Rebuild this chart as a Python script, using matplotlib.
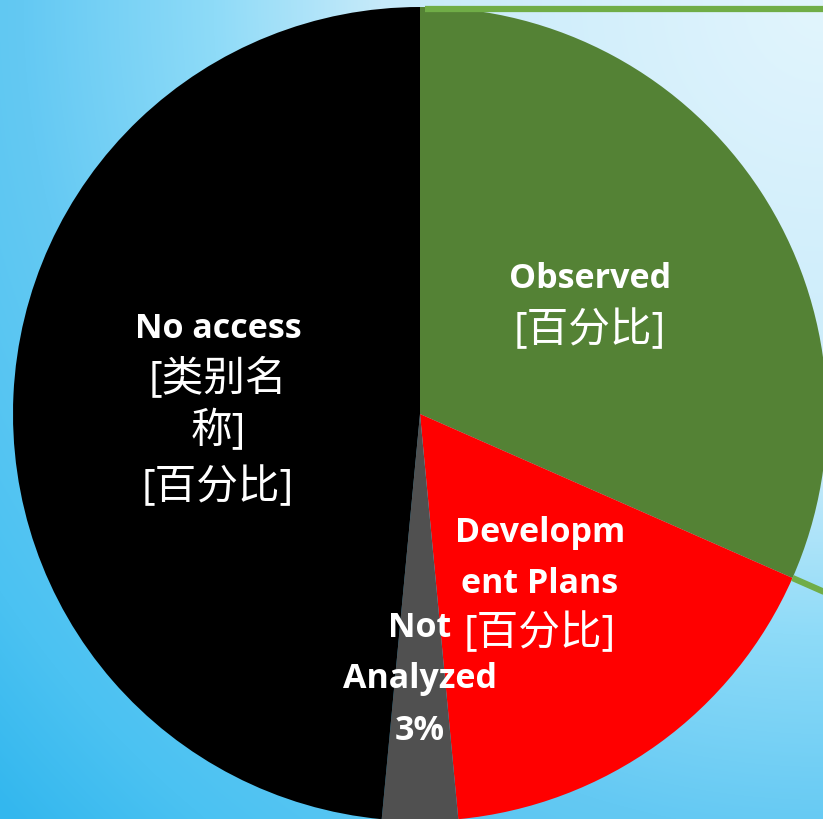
import numpy as np
import matplotlib
matplotlib.use("Agg")
import matplotlib.pyplot as plt
from matplotlib.colors import to_rgb

# ---- data ----
categories = ["Observed", "Development Plans", "Not Analyzed", "No access"]
values = [31.6, 16.9, 3.0, 48.5]
colors = ["#548235", "#FF0000", "#505050", "#000000"]
outline_color = "#70AD47"

# label lines: (text, is_cjk)
labels = {
    "Observed": [("Observed", False), ("[百分比]", True)],
    "Development Plans": [("Developm", False), ("ent Plans", False), ("[百分比]", True)],
    "Not Analyzed": [("Not", False), ("Analyzed", False), ("3%", False)],
    "No access": [("No access", False), ("[类别名", True), ("称]", True), ("[百分比]", True)],
}

W, H = 823, 820
fig = plt.figure(figsize=(W / 100, H / 100), dpi=100)
ax = fig.add_axes([0, 0, 1, 1])

# background radial gradient from top-right corner (slightly elliptical)
yy, xx = np.mgrid[0:H, 0:W]
d = np.hypot(xx - W, (yy - 0) * 0.96)
stops_d = [0, 443, 610, 800, 1000, 1130]
stops_c = ["#E2F5FD", "#C6EAFA", "#8EDBF8", "#64C9F3", "#4BC2F2", "#33B7EE"]
rgb = np.array([to_rgb(c) for c in stops_c])
img = np.stack([np.interp(d, stops_d, rgb[:, k]) for k in range(3)], axis=-1)
ax.imshow(img, extent=[0, W, 0, H], origin="upper", zorder=0, aspect="auto")

cx, cy, R = 420, H - 415, 407
wedges, _ = ax.pie(values, colors=colors, startangle=90, counterclock=False,
                   center=(cx, cy), radius=R, frame=True,
                   wedgeprops=dict(linewidth=0))
for w in wedges:
    w.set_zorder(2)

# odd outline of Observed slice (clipped)
ang = np.deg2rad(90 - 360 * values[0] / sum(values))
x0, y0 = cx + R * np.cos(ang), cy + R * np.sin(ang)
x1 = W + 10
y1 = cy + (x1 - cx) * np.tan(ang)
ax.plot([x0, x1], [y0, y1], color=outline_color, lw=4.5, solid_capstyle="butt", zorder=3)
ax.plot([425, W + 10], [H - 10, H - 10], color=outline_color, lw=4.5, solid_capstyle="butt", zorder=3)

# labels
positions = {
    "Observed": (590, [279, 331]),
    "Development Plans": (540, [533, 584, 634]),
    "Not Analyzed": (420, [628, 679, 731]),
    "No access": (218, [329, 380, 432, 488]),
}
fam = ["Open Sans", "Noto Sans CJK SC", "DejaVu Sans"]
for cat in categories:
    x, ys = positions[cat]
    for (txt, cjk), yimg in zip(labels[cat], ys):
        if cjk:
            ax.text(x, H - yimg, txt, ha="center", va="center", color="white",
                    fontsize=30, fontweight="normal", family=fam, zorder=5)
        else:
            ax.text(x, H - yimg, txt, ha="center", va="center", color="white",
                    fontsize=24.5, fontweight="bold", family=fam, zorder=5)

ax.set_xlim(0, W)
ax.set_ylim(0, H)
ax.set_aspect("auto")
ax.axis("off")
fig.savefig("out.png", dpi=100)
